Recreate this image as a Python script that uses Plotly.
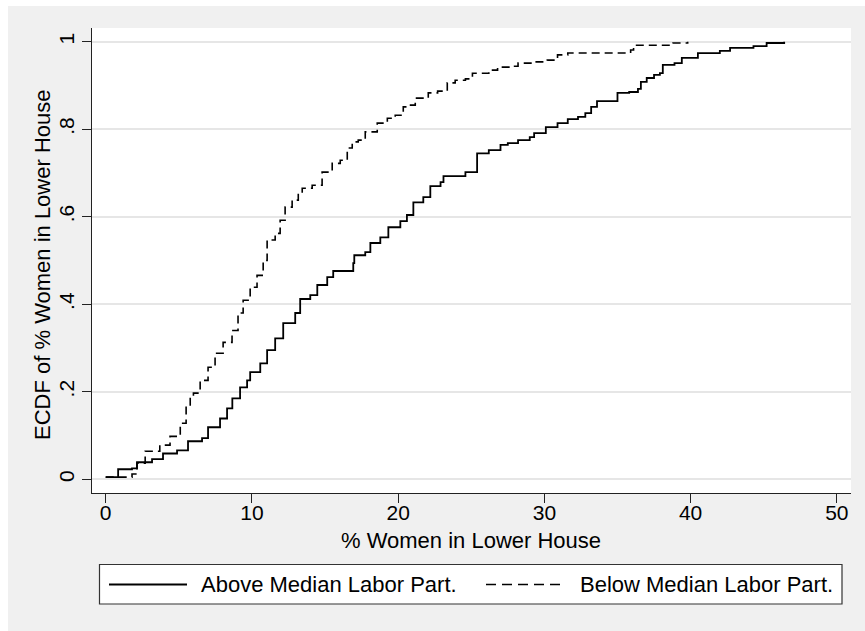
import plotly.graph_objects as go

# ECDF step points: % women in lower house vs. cumulative share
above_x = [0.0, 0.85, 1.8, 2.14, 3.17, 3.92, 4.88, 5.63, 6.59, 7.0,
           7.82, 8.3, 8.66, 9.19, 9.67, 9.88, 10.57, 11.04, 11.59, 12.14,
           12.96, 13.3, 13.99, 14.47, 15.15, 15.56, 16.93, 17.0, 17.75, 18.1,
           18.78, 19.33, 20.15, 20.6, 21.04, 21.72, 22.2, 22.9, 23.1, 24.6,
           25.4, 26.2, 27.0, 27.5, 28.2, 29.0, 29.3, 30.1, 30.9, 31.6,
           32.3, 32.8, 33.2, 33.6, 35.0, 35.8, 36.4, 36.6, 37.0, 37.5,
           37.9, 38.1, 38.9, 39.4, 40.5, 42.0, 42.7, 44.3, 45.2, 46.4]
above_y = [0.005, 0.023, 0.025, 0.039, 0.046, 0.059, 0.066, 0.087, 0.094, 0.119,
           0.139, 0.162, 0.185, 0.21, 0.226, 0.245, 0.265, 0.295, 0.322, 0.357,
           0.38, 0.412, 0.421, 0.444, 0.462, 0.476, 0.494, 0.512, 0.519, 0.54,
           0.553, 0.576, 0.59, 0.604, 0.633, 0.645, 0.67, 0.679, 0.693, 0.702,
           0.745, 0.752, 0.764, 0.768, 0.775, 0.782, 0.791, 0.805, 0.814, 0.823,
           0.828, 0.837, 0.851, 0.864, 0.883, 0.885, 0.892, 0.908, 0.917, 0.924,
           0.928, 0.947, 0.951, 0.963, 0.974, 0.979, 0.986, 0.99, 0.997, 1.0]

below_x = [0.0, 1.8, 2.14, 2.7, 3.7, 4.4, 5.1, 5.5, 5.78, 6.0,
           6.46, 7.0, 7.48, 8.03, 8.64, 9.05, 9.4, 9.88, 10.35, 10.77,
           11.04, 11.59, 11.93, 12.27, 12.75, 13.17, 13.44, 14.12, 14.8, 15.49,
           16.04, 16.52, 16.86, 17.27, 17.75, 18.57, 19.26, 19.8, 20.35, 20.6,
           21.17, 22.06, 22.7, 23.36, 23.9, 24.6, 25.08, 26.2, 26.8, 27.7,
           28.2, 29.3, 30.2, 30.9, 31.6, 35.9, 36.1, 38.8, 39.8]
below_y = [0.005, 0.012, 0.037, 0.064, 0.078, 0.098, 0.128, 0.167, 0.188, 0.197,
           0.226, 0.256, 0.288, 0.313, 0.34, 0.38, 0.409, 0.439, 0.466, 0.5,
           0.547, 0.562, 0.592, 0.622, 0.638, 0.654, 0.665, 0.672, 0.702, 0.722,
           0.729, 0.757, 0.771, 0.775, 0.794, 0.814, 0.825, 0.832, 0.851, 0.855,
           0.871, 0.883, 0.887, 0.906, 0.912, 0.915, 0.928, 0.935, 0.942, 0.944,
           0.951, 0.954, 0.958, 0.97, 0.974, 0.981, 0.992, 0.997, 1.0]

x_ticks = [0, 10, 20, 30, 40, 50]
y_ticks = [0, 0.2, 0.4, 0.6, 0.8, 1]
y_tick_text = ["0", ".2", ".4", ".6", ".8", "1"]

series_names = ["Above Median Labor Part.", "Below Median Labor Part."]
x_title = "% Women in Lower House"
y_title = "ECDF of % Women in Lower House"

FONT = "Liberation Sans, Arial, sans-serif"
FS = 22
TFS = 21
W, H = 865, 631
ML, MR, MT, MB = 92, 14, 28, 138
PW, PH = W - ML - MR, H - MT - MB


def px_x(p):
    return (p - ML) / PW


def px_y(p):
    return (H - MB - p) / PH


fig = go.Figure()
fig.add_trace(go.Scatter(x=above_x, y=above_y, mode="lines", line_shape="hv",
                         line=dict(color="black", width=1.8),
                         name=series_names[0], showlegend=False))
fig.add_trace(go.Scatter(x=below_x, y=below_y, mode="lines", line_shape="hv",
                         line=dict(color="black", width=1.6, dash="8px,5px"),
                         name=series_names[1], showlegend=False))

shapes = [
    # thin white strips at the left and top edges of the page
    dict(type="rect", xref="paper", yref="paper", x0=px_x(0), x1=px_x(8),
         y0=px_y(H), y1=px_y(0), fillcolor="white", line_width=0, layer="below"),
    dict(type="rect", xref="paper", yref="paper", x0=px_x(0), x1=px_x(W),
         y0=px_y(6), y1=px_y(0), fillcolor="white", line_width=0, layer="below"),
    # legend frame
    dict(type="rect", xref="paper", yref="paper", x0=px_x(99.5), x1=px_x(842),
         y0=px_y(604), y1=px_y(564.5), fillcolor="white",
         line=dict(color="#333333", width=1.2)),
    # legend samples
    dict(type="line", xref="paper", yref="paper", x0=px_x(109), x1=px_x(187),
         y0=px_y(584.5), y1=px_y(584.5), line=dict(color="black", width=1.8)),
    dict(type="line", xref="paper", yref="paper", x0=px_x(486), x1=px_x(566),
         y0=px_y(584.5), y1=px_y(584.5),
         line=dict(color="black", width=1.6, dash="10px,6px")),
]

text_font = dict(family=FONT, size=FS, color="black")
annotations = [
    dict(text=series_names[0], xref="paper", yref="paper", x=px_x(199), y=px_y(584.5),
         xanchor="left", yanchor="middle", showarrow=False, font=text_font),
    dict(text=series_names[1], xref="paper", yref="paper", x=px_x(578), y=px_y(584.5),
         xanchor="left", yanchor="middle", showarrow=False, font=text_font),
    # axis titles
    dict(text=x_title, xref="paper", yref="paper", x=px_x(471), y=px_y(540),
         xanchor="center", yanchor="middle", showarrow=False, font=text_font),
    dict(text=y_title, xref="paper", yref="paper", x=px_x(42), y=px_y(265),
         xanchor="center", yanchor="middle", textangle=-90, showarrow=False,
         font=text_font),
]

fig.update_layout(
    width=W, height=H,
    margin=dict(l=ML, r=MR, t=MT, b=MB, pad=0),
    paper_bgcolor="#f0f0f0", plot_bgcolor="white",
    font=dict(family=FONT, size=FS, color="black"),
    shapes=shapes, annotations=annotations,
    showlegend=False,
)

fig.update_xaxes(
    range=[-0.937, 50.97], tickvals=x_ticks, ticks="outside", ticklen=9,
    tickwidth=1.2, tickcolor="#222222", showline=True, linecolor="#222222",
    linewidth=1.2, showgrid=False, zeroline=False,
    tickfont=dict(size=TFS), ticklabelstandoff=-8,
    automargin=False,
)
fig.update_yaxes(
    range=[-0.0313, 1.0313], tickvals=y_ticks, ticktext=y_tick_text,
    tickangle=-90, ticks="outside", ticklen=9, tickwidth=1.2,
    tickcolor="#222222", showline=True, linecolor="#222222", linewidth=1.2,
    showgrid=True, gridcolor="#e6e6e6", gridwidth=1.6, zeroline=False,
    tickfont=dict(size=TFS),
    automargin=False,
)

fig.write_html("out.html")
